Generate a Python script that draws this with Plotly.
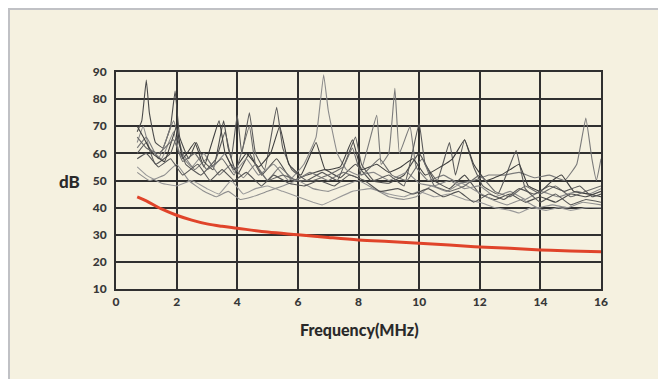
import plotly.graph_objects as go

# ---------------- data ----------------
x_ticks = [0, 2, 4, 6, 8, 10, 12, 14, 16]
y_ticks = [10, 20, 30, 40, 50, 60, 70, 80, 90]

limit_freq = [0.7, 1.0, 1.5, 2.0, 2.5, 3.0, 3.5, 4.0, 5.0, 6.0, 7.0, 8.0, 9.0, 10.0, 11.0, 12.0, 13.0, 14.0, 15.0, 16.0]
limit_db = [44.0, 42.5, 39.5, 37.2, 35.4, 34.0, 33.1, 32.4, 31.0, 30.0, 29.0, 28.1, 27.5, 26.9, 26.2, 25.5, 25.0, 24.4, 24.0, 23.7]

s1_freq = [0.7, 0.85, 1.0, 1.1, 1.3, 1.55, 1.8, 1.95, 2.1, 2.4, 2.65, 2.9, 3.2, 3.55, 3.7, 4.0, 4.4, 4.8, 5.3, 5.8, 6.3, 6.9, 7.4, 7.9, 8.4, 9.0, 9.5, 10.0, 10.5, 11.0, 11.5, 12.0, 12.5, 13.0, 13.5, 14.0, 14.5, 15.0, 15.5, 16.0]
s1_db = [68, 72, 87, 75, 64, 62, 70, 83, 66, 58, 64, 57, 54, 72, 62, 52, 60, 52, 58, 50, 52, 54, 51, 56, 50, 49, 52, 60, 50, 47, 52, 45, 43, 45, 42, 44, 42, 45, 44, 46]

s2_freq = [0.7, 0.9, 1.1, 1.5, 1.9, 2.1, 2.5, 2.9, 3.2, 3.6, 3.9, 4.3, 4.7, 5.2, 5.7, 6.2, 6.6, 6.85, 7.0, 7.3, 7.6, 8.0, 8.5, 9.0, 9.6, 10.0, 10.5, 11.0, 11.5, 12.0, 12.5, 13.0, 13.5, 14.0, 14.6, 15.2, 15.6, 16.0]
s2_db = [64, 70, 62, 58, 68, 60, 55, 60, 55, 60, 53, 58, 52, 56, 50, 56, 66, 89, 76, 60, 54, 52, 53, 50, 53, 49, 48, 50, 47, 48, 44, 46, 43, 46, 44, 46, 45, 47]

s3_freq = [0.7, 1.0, 1.4, 1.9, 2.2, 2.6, 3.0, 3.4, 3.8, 4.2, 4.6, 5.0, 5.4, 5.9, 6.4, 7.0, 7.5, 8.0, 8.6, 8.75, 9.0, 9.2, 9.35, 9.7, 9.9, 10.3, 10.8, 11.3, 11.8, 12.3, 12.8, 13.3, 13.8, 14.3, 14.8, 15.2, 15.5, 15.7, 15.85, 16.0]
s3_db = [62, 66, 58, 72, 60, 54, 58, 52, 56, 51, 56, 50, 55, 50, 53, 50, 53, 51, 74, 56, 60, 84, 60, 70, 55, 50, 52, 49, 50, 52, 52, 53, 51, 52, 50, 56, 73, 58, 50, 58]

s4_freq = [0.7, 1.0, 1.3, 1.8, 2.0, 2.3, 2.8, 3.3, 3.6, 3.8, 4.0, 4.15, 4.4, 4.6, 4.9, 5.3, 5.5, 5.8, 6.3, 6.8, 7.3, 7.9, 8.1, 8.5, 9.0, 9.5, 10.0, 10.2, 10.6, 11.0, 11.2, 11.5, 11.8, 12.1, 12.6, 13.2, 13.5, 14.0, 14.5, 15.0, 15.5, 16.0]
s4_db = [60, 64, 56, 60, 66, 56, 52, 58, 68, 58, 74, 60, 75, 60, 54, 77, 62, 54, 50, 53, 50, 66, 56, 50, 52, 48, 71, 56, 50, 64, 52, 65, 55, 48, 45, 61, 47, 42, 45, 41, 43, 42]

s5_freq = [0.7, 1.0, 1.5, 2.0, 2.5, 3.0, 3.4, 3.8, 4.2, 4.6, 5.0, 5.5, 6.0, 6.5, 6.8, 7.2, 7.8, 8.4, 9.0, 9.5, 10.0, 10.5, 11.0, 11.5, 12.0, 12.5, 13.0, 13.3, 13.7, 14.2, 14.6, 15.0, 15.5, 16.0]
s5_db = [55, 52, 49, 48, 50, 47, 45, 50, 45, 47, 48, 46, 44, 42, 41, 43, 46, 47, 45, 44, 46, 44, 45, 43, 42, 40, 39, 38, 40, 39, 40, 39, 40, 40]

s6_freq = [0.7, 1.1, 1.6, 2.0, 2.4, 2.9, 3.3, 3.7, 4.1, 4.5, 5.0, 5.5, 6.0, 6.5, 7.0, 7.5, 8.0, 8.5, 9.0, 9.5, 9.9, 10.4, 10.9, 11.4, 11.9, 12.4, 12.9, 13.4, 13.9, 14.4, 14.9, 15.4, 16.0]
s6_db = [53, 50, 52, 56, 50, 46, 44, 46, 43, 44, 46, 48, 50, 47, 46, 48, 50, 47, 44, 43, 44, 48, 46, 49, 46, 43, 41, 43, 40, 41, 40, 42, 41]

s7_freq = [0.7, 0.9, 1.2, 1.6, 2.0, 2.2, 2.6, 2.9, 3.4, 3.6, 3.9, 4.3, 4.7, 5.1, 5.4, 5.7, 6.1, 6.6, 6.9, 7.4, 7.8, 8.1, 8.6, 9.0, 9.4, 9.8, 10.2, 10.7, 11.1, 11.5, 11.8, 12.2, 12.7, 13.0, 13.3, 13.6, 14.0, 14.4, 14.7, 15.1, 15.6, 16.0]
s7_db = [70, 66, 60, 57, 70, 58, 64, 55, 72, 60, 54, 60, 55, 60, 70, 56, 52, 64, 54, 55, 65, 54, 56, 53, 55, 58, 52, 55, 58, 65, 56, 50, 52, 54, 56, 48, 46, 50, 52, 46, 45, 44]

s8_freq = [0.7, 1.0, 1.4, 1.9, 2.2, 2.6, 3.0, 3.5, 3.9, 4.4, 4.6, 5.0, 5.5, 6.0, 6.5, 7.0, 7.5, 7.8, 8.1, 8.7, 9.1, 9.6, 10.1, 10.5, 11.0, 11.5, 12.0, 12.5, 13.0, 13.5, 14.0, 14.5, 15.0, 15.5, 16.0]
s8_db = [66, 62, 60, 65, 57, 60, 54, 58, 52, 70, 56, 50, 52, 50, 50, 52, 55, 62, 52, 58, 52, 50, 58, 48, 46, 48, 52, 46, 44, 48, 45, 48, 44, 46, 48]

s9_freq = [0.7, 1.0, 1.4, 1.8, 2.2, 2.7, 3.1, 3.5, 3.9, 4.3, 4.8, 5.2, 5.7, 6.2, 6.7, 7.2, 7.7, 8.2, 8.7, 9.3, 9.8, 10.3, 10.8, 11.3, 11.8, 12.3, 12.8, 13.3, 13.8, 14.3, 14.8, 15.3, 15.7, 16.0]
s9_db = [58, 60, 55, 58, 52, 56, 50, 54, 50, 53, 48, 52, 49, 48, 50, 48, 52, 50, 46, 47, 45, 47, 44, 46, 42, 45, 43, 47, 45, 48, 46, 48, 44, 45]

# ---------------- figure ----------------
# the page has an 8 px body margin, so the figure is laid out in page coords minus 8
OFF = 8
W, H = 666 - OFF, 379 - OFF
L, R, T, B = 116 - OFF, 65, 72 - OFF, 90
pw, ph = W - L - R, H - T - B


def px(xp):
    return (xp - OFF - L) / pw


def py(yp):
    return (H - B - (yp - OFF)) / ph


fig = go.Figure()

series = [
    (s1_freq, s1_db, "#4a4a4a"),
    (s2_freq, s2_db, "#8a8a8a"),
    (s3_freq, s3_db, "#7a7a7a"),
    (s4_freq, s4_db, "#5a5a5a"),
    (s5_freq, s5_db, "#9a9a9a"),
    (s6_freq, s6_db, "#8f8f8f"),
    (s7_freq, s7_db, "#3e3e3e"),
    (s8_freq, s8_db, "#6a6a6a"),
    (s9_freq, s9_db, "#555555"),
]
for fx, fy, col in series:
    fig.add_trace(go.Scatter(x=fx, y=fy, mode="lines",
                             line=dict(color=col, width=1.1, shape="spline", smoothing=0.3),
                             showlegend=False, hoverinfo="skip"))

fig.add_trace(go.Scatter(x=limit_freq, y=limit_db, mode="lines",
                         line=dict(color="#e0442a", width=3, shape="spline"),
                         showlegend=False, hoverinfo="skip"))

tick_font = dict(family="Lato", size=12, color="#383838", weight=900)

fig.update_xaxes(range=[0, 16], tickvals=x_ticks, ticktext=[str(v) for v in x_ticks],
                 showgrid=True, gridcolor="#303030", gridwidth=2,
                 showline=True, linecolor="#303030", linewidth=2, mirror=True,
                 zeroline=False, ticks="", tickfont=tick_font, ticklabelstandoff=1)
fig.update_yaxes(range=[10, 90], tickvals=y_ticks, ticktext=[str(v) for v in y_ticks],
                 showgrid=True, gridcolor="#303030", gridwidth=2,
                 showline=True, linecolor="#303030", linewidth=2, mirror=True,
                 zeroline=False, ticks="", tickfont=tick_font, ticklabelstandoff=5)

shapes = [
    # gray frame edge on top and left
    dict(type="rect", xref="paper", yref="paper", x0=px(OFF), x1=px(666), y0=py(OFF), y1=py(OFF + 2),
         fillcolor="#c0c1c5", line_width=0, layer="below"),
    dict(type="rect", xref="paper", yref="paper", x0=px(OFF), x1=px(OFF + 2), y0=py(OFF), y1=py(379),
         fillcolor="#c0c1c5", line_width=0, layer="below"),
]

annotations = [
    dict(text="dB", xref="paper", yref="paper", x=px(69), y=py(181), showarrow=False,
         font=dict(family="Lato", size=17, color="#2a2a2a", weight=900), xanchor="center", yanchor="middle"),
    dict(text="Frequency(MHz)", xref="paper", yref="paper", x=px(359), y=py(329), showarrow=False,
         font=dict(family="Lato", size=16, color="#2a2a2a", weight=900), xanchor="center", yanchor="middle"),
]

fig.update_layout(width=W, height=H, margin=dict(l=L, r=R, t=T, b=B, pad=0),
                  paper_bgcolor="#f5f1e0", plot_bgcolor="#f5f1e0",
                  shapes=shapes, annotations=annotations, showlegend=False)

fig.write_html("out.html")
